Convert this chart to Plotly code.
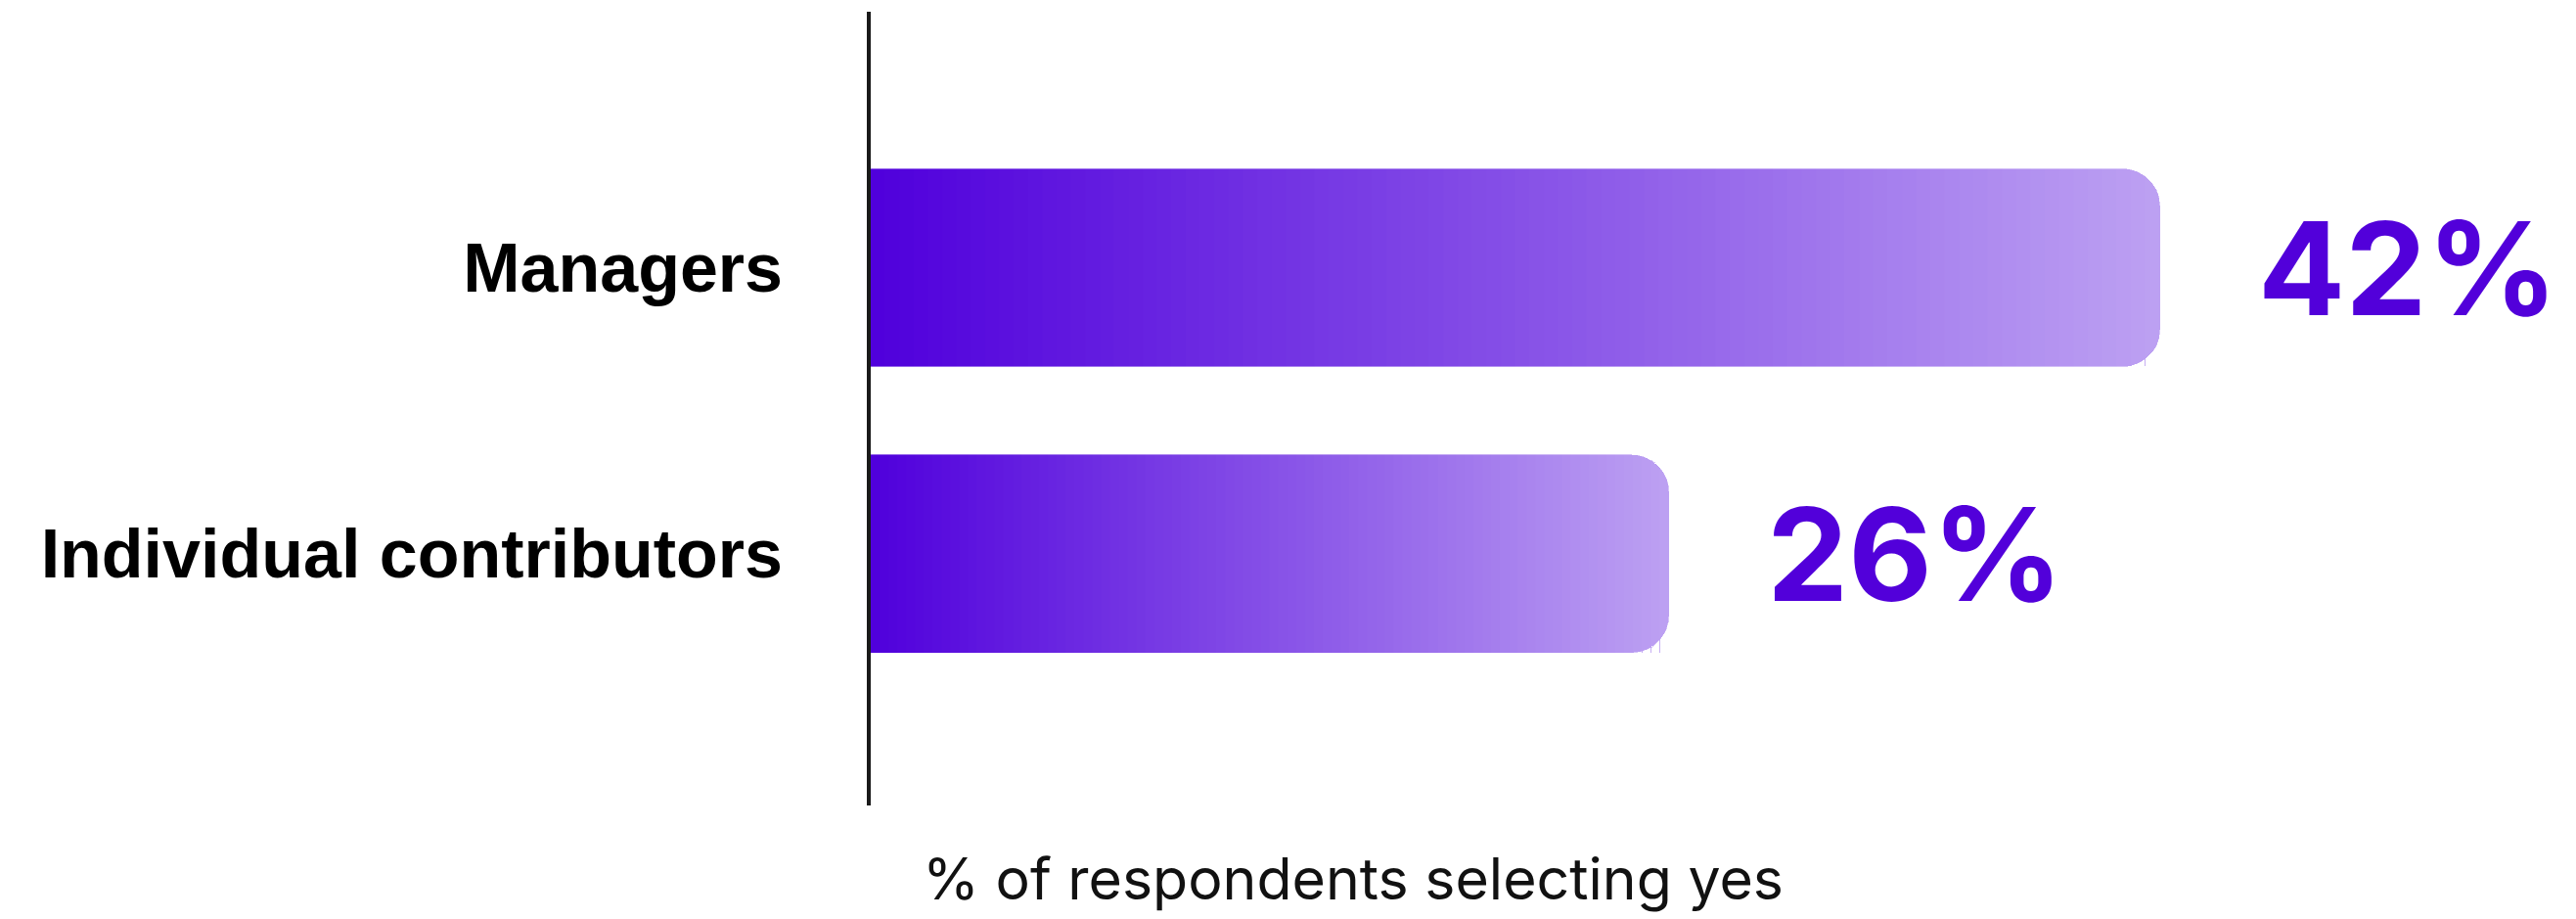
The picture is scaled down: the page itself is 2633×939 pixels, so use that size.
import plotly.graph_objects as go

# ---- data ----
categories = ["Individual contributors", "Managers"]
values = [26, 42]
value_labels = ["26%", "42%"]
axis_title = "% of respondents selecting yes"

# ---- style ----
N_SEG = 90
c_start = (0x50, 0x00, 0xDC)
c_end = (0xBC, 0xA0, 0xF2)
label_color = "#5200DA"


def lerp(a, b, t):
    return tuple(round(a[i] + (b[i] - a[i]) * t) for i in range(3))


fig = go.Figure()
for i in range(N_SEG):
    t = i / (N_SEG - 1)
    r, g, b = lerp(c_start, c_end, t)
    col = f"rgb({r},{g},{b})"
    fig.add_trace(go.Bar(
        y=categories,
        x=[v / N_SEG for v in values],
        orientation="h",
        marker=dict(color=col, line=dict(width=0.6, color=col)),
        hoverinfo="skip",
        showlegend=False,
    ))

for cat, v, lab in zip(categories, values, value_labels):
    fig.add_annotation(
        x=v, y=cat, xref="x", yref="y",
        text=lab, showarrow=False,
        xanchor="left", yanchor="middle",
        xshift=98, yshift=0,
        font=dict(family="Inter", size=132, color=label_color, weight=700),
    )

fig.add_annotation(
    x=(1383 - 890) / (2633 - 890), y=-0.092, xref="paper", yref="paper",
    text=axis_title, showarrow=False,
    xanchor="center", yanchor="middle",
    font=dict(family="Inter", size=59, color="#111111"),
)

px_per_unit = 31.37
plot_w = 2633 - 890

fig.update_layout(
    width=2633, height=939,
    margin=dict(l=890, r=0, t=12, b=116),
    paper_bgcolor="white", plot_bgcolor="white",
    barmode="stack", bargap=0.31,
    barcornerradius=38,
    xaxis=dict(range=[0, plot_w / px_per_unit], visible=False,
               showgrid=False, zeroline=False),
    yaxis=dict(range=[-0.88, 1.895], showgrid=False, zeroline=False,
               showline=True, linewidth=4, linecolor="#1a1a1a",
               ticks="", ticklabelstandoff=72,
               tickfont=dict(family="Liberation Sans", size=70,
                             color="#000000", weight=700)),
)

fig.write_html("out.html")
